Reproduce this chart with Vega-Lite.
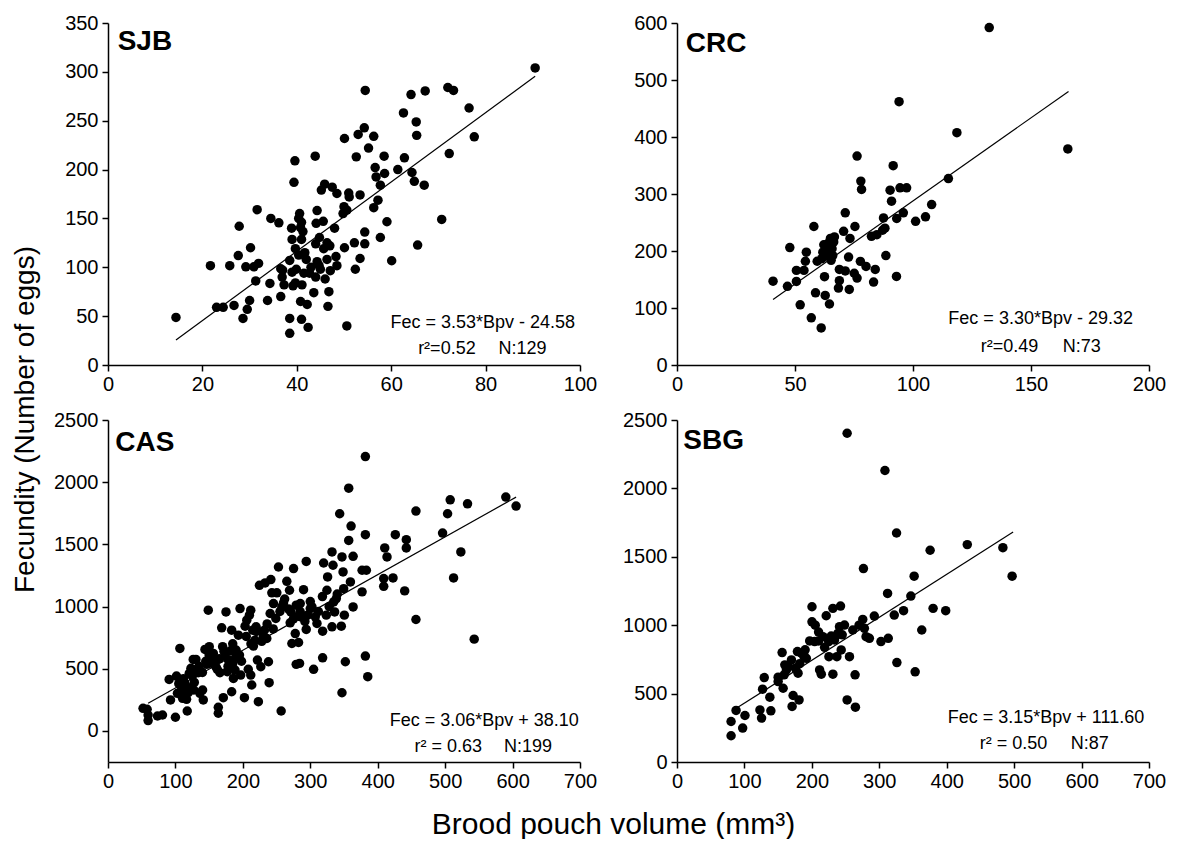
{
  "$schema": "https://vega.github.io/schema/vega-lite/v6.json",
  "padding": {"left": 11, "top": 13, "right": 5, "bottom": 0},
  "columns": 2,
  "spacing": {"row": 55, "column": 97},
  "bounds": "flush",
  "config": {
    "font": "Liberation Sans",
    "view": {"stroke": null},
    "axis": {"domainColor": "black", "domainWidth": 1.5, "tickColor": "black", "tickWidth": 1.5, "tickSize": 6, "labelFont": "Liberation Sans", "labelFontSize": 20, "labelColor": "black", "grid": false, "labelFlush": false, "labelBound": false, "labelOverlap": false, "titleFont": "Liberation Sans", "titleFontSize": 28, "titleFontWeight": "normal", "titleColor": "black", "labelPadding": 3, "format": "d"}
  },
  "datasets": {
    "sjb": [{"x":14.4,"y":48.7},{"x":23.0,"y":59},{"x":24.4,"y":59},{"x":21.7,"y":101.6},{"x":25.8,"y":101.6},{"x":26.7,"y":61},{"x":27.6,"y":112},{"x":27.8,"y":142},{"x":28.6,"y":47.7},{"x":29.5,"y":57},{"x":29.2,"y":100.5},{"x":30.2,"y":120},{"x":30.0,"y":66},{"x":30.9,"y":100.5},{"x":31.9,"y":104},{"x":31.3,"y":86},{"x":31.6,"y":159},{"x":33.8,"y":66},{"x":34.3,"y":83.5},{"x":34.5,"y":150},{"x":36.2,"y":145.5},{"x":36.6,"y":70},{"x":36.6,"y":98.5},{"x":36.9,"y":90},{"x":37.3,"y":82},{"x":38.5,"y":107},{"x":38.5,"y":47.7},{"x":38.5,"y":32.4},{"x":38.9,"y":140},{"x":39.0,"y":128.5},{"x":39.2,"y":81},{"x":39.7,"y":119},{"x":39.6,"y":209},{"x":39.4,"y":187},{"x":39.9,"y":98},{"x":39.7,"y":84},{"x":40.4,"y":112.5},{"x":40.4,"y":150},{"x":40.6,"y":155},{"x":40.8,"y":140.5},{"x":41.0,"y":128.5},{"x":40.8,"y":65},{"x":41.0,"y":46.7},{"x":41.1,"y":82},{"x":41.5,"y":94},{"x":41.3,"y":136.5},{"x":41.7,"y":115},{"x":42.2,"y":62},{"x":42.4,"y":38.5},{"x":42.7,"y":94},{"x":43.6,"y":74},{"x":43.9,"y":213.7},{"x":44.1,"y":145},{"x":44.3,"y":158},{"x":44.3,"y":105.7},{"x":44.7,"y":102},{"x":44.8,"y":130.5},{"x":45.0,"y":98},{"x":45.2,"y":179},{"x":45.6,"y":147},{"x":45.9,"y":185},{"x":45.7,"y":119},{"x":46.4,"y":125},{"x":46.4,"y":108},{"x":46.8,"y":75},{"x":46.6,"y":60},{"x":47.1,"y":96.5},{"x":47.5,"y":182},{"x":48.3,"y":111},{"x":48.5,"y":175.5},{"x":48.5,"y":101.6},{"x":49.8,"y":155},{"x":50.1,"y":120},{"x":50.1,"y":231.8},{"x":50.6,"y":40},{"x":50.6,"y":158.5},{"x":51.0,"y":176},{"x":51.1,"y":172},{"x":52.2,"y":125},{"x":52.4,"y":98},{"x":52.6,"y":213},{"x":53.0,"y":236},{"x":53.4,"y":174},{"x":53.4,"y":109},{"x":54.3,"y":242.7},{"x":54.5,"y":281},{"x":54.4,"y":136},{"x":54.4,"y":124},{"x":55.2,"y":222},{"x":56.3,"y":234},{"x":56.3,"y":161},{"x":56.6,"y":202},{"x":56.8,"y":192.5},{"x":57.2,"y":168.7},{"x":57.7,"y":184},{"x":57.7,"y":130.5},{"x":58.5,"y":213.7},{"x":58.6,"y":196},{"x":59.1,"y":146.6},{"x":60.1,"y":106.7},{"x":61.4,"y":200},{"x":90.5,"y":304},{"x":76.5,"y":263},{"x":77.6,"y":233.5},{"x":72.3,"y":216.4},{"x":72.0,"y":284},{"x":73.2,"y":281},{"x":67.2,"y":280.5},{"x":64.2,"y":276.8},{"x":62.6,"y":258},{"x":65.3,"y":248.8},{"x":65.4,"y":235},{"x":62.8,"y":212},{"x":64.4,"y":197},{"x":64.9,"y":188},{"x":67.0,"y":184},{"x":70.7,"y":149},{"x":65.6,"y":122.7},{"x":42,"y":108},{"x":43,"y":100},{"x":44,"y":90},{"x":46,"y":88},{"x":39,"y":95},{"x":41,"y":146},{"x":47,"y":122},{"x":37,"y":97},{"x":48,"y":140},{"x":50,"y":162},{"x":44,"y":124}],
    "crc": [{"x":40.7,"y":147},{"x":46.8,"y":138},{"x":47.8,"y":206},{"x":50.6,"y":146.6},{"x":50.6,"y":166},{"x":52.2,"y":105.6},{"x":53.8,"y":166},{"x":54.4,"y":182},{"x":54.8,"y":198},{"x":56.9,"y":82.7},{"x":58.0,"y":243},{"x":58.7,"y":126.7},{"x":59.4,"y":182},{"x":61.1,"y":65},{"x":61.4,"y":186.5},{"x":61.8,"y":198},{"x":62.2,"y":211},{"x":62.5,"y":155},{"x":62.8,"y":122},{"x":63.2,"y":201},{"x":63.6,"y":192},{"x":63.9,"y":213},{"x":64.6,"y":107},{"x":65.0,"y":222},{"x":65.3,"y":183.6},{"x":65.7,"y":204},{"x":66.4,"y":216},{"x":66.7,"y":224.6},{"x":66.0,"y":192},{"x":68.4,"y":135},{"x":68.8,"y":148},{"x":68.8,"y":167.7},{"x":70.6,"y":234.6},{"x":71.3,"y":267},{"x":71.3,"y":165},{"x":72.7,"y":189.4},{"x":73.0,"y":132.5},{"x":73.3,"y":222},{"x":75.4,"y":243},{"x":75.1,"y":161},{"x":76.3,"y":152.5},{"x":76.3,"y":366.6},{"x":77.7,"y":181.8},{"x":77.9,"y":322.6},{"x":78.2,"y":308},{"x":80.1,"y":173},{"x":82.4,"y":225.8},{"x":83.3,"y":145.5},{"x":84.0,"y":167.7},{"x":84.7,"y":228.7},{"x":87.1,"y":236.4},{"x":87.5,"y":258},{"x":88.1,"y":240},{"x":88.5,"y":192},{"x":90.3,"y":306.7},{"x":90.9,"y":287.4},{"x":91.6,"y":349.6},{"x":93.0,"y":155.4},{"x":93.1,"y":257},{"x":94.1,"y":462},{"x":94.5,"y":310.8},{"x":95.9,"y":267},{"x":97.3,"y":310.8},{"x":101.1,"y":252},{"x":105.3,"y":260},{"x":107.9,"y":281.5},{"x":132.3,"y":592},{"x":118.6,"y":407.6},{"x":165.6,"y":379},{"x":115.0,"y":327},{"x":63,"y":205},{"x":64,"y":196},{"x":62,"y":190}],
    "cas": [{"x":52,"y":182},{"x":59.5,"y":128},{"x":58,"y":174},{"x":59.5,"y":83},{"x":73.4,"y":120},{"x":80.8,"y":128},{"x":100,"y":110},{"x":90.7,"y":414},{"x":92.7,"y":249},{"x":101.6,"y":441},{"x":103,"y":302},{"x":106.6,"y":663},{"x":109,"y":329},{"x":110.6,"y":262},{"x":114,"y":382},{"x":117.5,"y":160},{"x":116.5,"y":254},{"x":119,"y":307},{"x":120.5,"y":463},{"x":123,"y":503},{"x":126.4,"y":575},{"x":127.4,"y":329},{"x":131.4,"y":495},{"x":130.4,"y":575},{"x":133.9,"y":468},{"x":136.3,"y":302},{"x":140.3,"y":329},{"x":141.3,"y":249},{"x":143.8,"y":655},{"x":146.3,"y":535},{"x":148.7,"y":971},{"x":150.2,"y":677},{"x":153.7,"y":583},{"x":156.2,"y":623},{"x":160.1,"y":516},{"x":162,"y":495},{"x":163.6,"y":142},{"x":163.6,"y":190},{"x":166,"y":468},{"x":168.6,"y":829},{"x":170,"y":677},{"x":171,"y":267},{"x":173.5,"y":602},{"x":175,"y":957},{"x":176.9,"y":476},{"x":178.5,"y":570},{"x":181,"y":642},{"x":183.4,"y":315},{"x":183.4,"y":810},{"x":185,"y":543},{"x":186,"y":422},{"x":188.4,"y":489},{"x":190,"y":596},{"x":193.4,"y":770},{"x":195.8,"y":984},{"x":195,"y":610},{"x":196.8,"y":449},{"x":202.3,"y":267},{"x":203.3,"y":842},{"x":205.8,"y":890},{"x":208,"y":495},{"x":209.7,"y":931},{"x":211.7,"y":971},{"x":211.7,"y":449},{"x":213.2,"y":369},{"x":214.7,"y":810},{"x":215.7,"y":682},{"x":218,"y":730},{"x":219.6,"y":837},{"x":221.6,"y":570},{"x":223,"y":235},{"x":224.6,"y":1171},{"x":226.6,"y":516},{"x":229,"y":797},{"x":230.5,"y":757},{"x":232,"y":810},{"x":233,"y":1190},{"x":235.5,"y":743},{"x":238,"y":556},{"x":239,"y":388},{"x":240.5,"y":944},{"x":241.5,"y":1217},{"x":243,"y":1110},{"x":245.4,"y":1024},{"x":248.9,"y":904},{"x":250.4,"y":1110},{"x":252.8,"y":1318},{"x":256.8,"y":160},{"x":257.8,"y":997},{"x":260.3,"y":1029},{"x":265.2,"y":1203},{"x":269.2,"y":1131},{"x":270.2,"y":869},{"x":271.2,"y":957},{"x":272.7,"y":703},{"x":275.2,"y":1305},{"x":276.2,"y":917},{"x":277.7,"y":783},{"x":279.1,"y":535},{"x":279.1,"y":1011},{"x":282.6,"y":711},{"x":284.1,"y":543},{"x":285.1,"y":1024},{"x":286.1,"y":917},{"x":290,"y":1136},{"x":294,"y":1363},{"x":294,"y":816},{"x":296,"y":931},{"x":300,"y":984},{"x":302.5,"y":997},{"x":304.9,"y":495},{"x":307.4,"y":917},{"x":309.9,"y":864},{"x":318.3,"y":802},{"x":318.3,"y":588},{"x":319.8,"y":1350},{"x":323.7,"y":931},{"x":324.7,"y":1131},{"x":325.7,"y":1238},{"x":332.2,"y":837},{"x":332.2,"y":1439},{"x":333.7,"y":1332},{"x":334.7,"y":1037},{"x":336.1,"y":957},{"x":338.6,"y":1064},{"x":343.6,"y":1746},{"x":346,"y":842},{"x":347,"y":1399},{"x":347,"y":307},{"x":348.6,"y":1278},{"x":349.5,"y":1144},{"x":350.5,"y":931},{"x":352,"y":556},{"x":381.7,"y":2206},{"x":357,"y":1952},{"x":360.5,"y":1647},{"x":357,"y":1532},{"x":363.5,"y":1404},{"x":381.7,"y":1578},{"x":359.5,"y":1198},{"x":376.8,"y":1292},{"x":383.2,"y":1292},{"x":376.8,"y":1118},{"x":363.5,"y":997},{"x":381.7,"y":602},{"x":385.2,"y":436},{"x":410.4,"y":1471},{"x":413.8,"y":1399},{"x":408.9,"y":1225},{"x":408.9,"y":1163},{"x":422.7,"y":1230},{"x":426.1,"y":1578},{"x":442.4,"y":1538},{"x":442.4,"y":1471},{"x":440,"y":1126},{"x":456.7,"y":1768},{"x":456.7,"y":896},{"x":496.2,"y":1591},{"x":503.6,"y":1746},{"x":507.5,"y":1858},{"x":512.5,"y":1230},{"x":523.3,"y":1439},{"x":533.2,"y":1826},{"x":543.1,"y":738},{"x":590,"y":1880},{"x":605.2,"y":1808},{"x":105,"y":380},{"x":112,"y":420},{"x":118,"y":350},{"x":125,"y":440},{"x":128,"y":390},{"x":135,"y":520},{"x":140,"y":470},{"x":145,"y":560},{"x":150,"y":610},{"x":155,"y":540},{"x":165,"y":580},{"x":172,"y":640},{"x":178,"y":520},{"x":185,"y":700},{"x":190,"y":650},{"x":198,"y":560},{"x":205,"y":760},{"x":212,"y":700},{"x":220,"y":800},{"x":228,"y":720},{"x":236,"y":860},{"x":245,"y":820},{"x":255,"y":960},{"x":262,"y":1060},{"x":268,"y":980},{"x":275,"y":900},{"x":285,"y":960},{"x":292,"y":880},{"x":300,"y":1040},{"x":312,"y":960},{"x":318,"y":1080},{"x":328,"y":1000},{"x":340,"y":1100}],
    "sbg": [{"x":80.2,"y":192},{"x":80.2,"y":296},{"x":87.6,"y":377},{"x":97.4,"y":248},{"x":100.8,"y":340},{"x":123,"y":381},{"x":125.4,"y":321},{"x":126.9,"y":532},{"x":129.4,"y":617},{"x":137.7,"y":474},{"x":139.2,"y":374},{"x":150,"y":588},{"x":155.9,"y":800},{"x":157.4,"y":539},{"x":158.9,"y":637},{"x":159.9,"y":710},{"x":162.3,"y":673},{"x":169.7,"y":746},{"x":170.7,"y":406},{"x":172.2,"y":486},{"x":175.6,"y":685},{"x":178.6,"y":807},{"x":179.5,"y":649},{"x":181,"y":454},{"x":182,"y":719},{"x":184.5,"y":795},{"x":188.4,"y":770},{"x":191.8,"y":758},{"x":196.8,"y":885},{"x":200.2,"y":1135},{"x":200.2,"y":1025},{"x":204.1,"y":880},{"x":210,"y":885},{"x":211.5,"y":673},{"x":214,"y":642},{"x":216.4,"y":916},{"x":218.9,"y":838},{"x":221.3,"y":1069},{"x":225.3,"y":770},{"x":228.7,"y":921},{"x":231.2,"y":1123},{"x":231.2,"y":642},{"x":233.6,"y":892},{"x":237.1,"y":770},{"x":238.6,"y":940},{"x":241,"y":989},{"x":242.5,"y":1140},{"x":243.5,"y":819},{"x":248.4,"y":1001},{"x":252.3,"y":2403},{"x":252.3,"y":454},{"x":255.8,"y":770},{"x":260.7,"y":965},{"x":264.1,"y":637},{"x":264.6,"y":401},{"x":275.5,"y":1042},{"x":276.5,"y":1414},{"x":277.9,"y":977},{"x":280.4,"y":916},{"x":285.3,"y":904},{"x":292.6,"y":1067},{"x":302.5,"y":880},{"x":308.4,"y":2131},{"x":312.3,"y":1232},{"x":313.3,"y":904},{"x":322.2,"y":1074},{"x":326.1,"y":727},{"x":325.6,"y":1674},{"x":336,"y":1106},{"x":351.7,"y":1358},{"x":346.8,"y":1213},{"x":353.2,"y":659},{"x":363,"y":965},{"x":379.8,"y":1123},{"x":375.4,"y":1548},{"x":398.5,"y":1106},{"x":430.5,"y":1589},{"x":483.3,"y":1567},{"x":497,"y":1358},{"x":150,"y":620},{"x":165,"y":700},{"x":190,"y":820},{"x":210,"y":950},{"x":225,"y":880},{"x":245,"y":930},{"x":270,"y":1000},{"x":205,"y":1000}],
    "fits": [{"panel":"SJB","x":14.4,"y":25.6},{"panel":"SJB","x":90.5,"y":295.5},{"panel":"CRC","x":40.7,"y":115},{"panel":"CRC","x":165.9,"y":480},{"panel":"CAS","x":59.5,"y":222},{"panel":"CAS","x":605.2,"y":1880},{"panel":"SBG","x":88.5,"y":394},{"panel":"SBG","x":498.5,"y":1682}],
    "notes": [{"panel":"SJB","x":79.4,"y":37.5,"text":"Fec = 3.53*Bpv - 24.58"},{"panel":"SJB","x":71.8,"y":11.2,"text":"r²=0.52"},{"panel":"SJB","x":87.8,"y":11.2,"text":"N:129"},{"panel":"CRC","x":154.1,"y":71.6,"text":"Fec = 3.30*Bpv - 29.32"},{"panel":"CRC","x":140.9,"y":22.9,"text":"r²=0.49"},{"panel":"CRC","x":171.5,"y":22.9,"text":"N:73"},{"panel":"CAS","x":558,"y":40,"text":"Fec = 3.06*Bpv + 38.10"},{"panel":"CAS","x":504.7,"y":-166,"text":"r² = 0.63"},{"panel":"CAS","x":622.9,"y":-166,"text":"N:199"},{"panel":"SBG","x":547.2,"y":284,"text":"Fec = 3.15*Bpv + 111.60"},{"panel":"SBG","x":499,"y":94.7,"text":"r² = 0.50"},{"panel":"SBG","x":612.3,"y":94.7,"text":"N:87"}],
    "labels": [{"panel":"SJB","x":2.05,"y":322,"text":"SJB"},{"panel":"CRC","x":3.7,"y":549.5,"text":"CRC"},{"panel":"CAS","x":10.8,"y":2253,"text":"CAS"},{"panel":"SBG","x":9.3,"y":2289,"text":"SBG"}]
  },
  "concat": [
    {
      "width": 472, "height": 342,
      "layer": [
        {"data": {"name": "sjb"}, "mark": {"type": "circle", "size": 90, "opacity": 1, "color": "black"},
         "encoding": {
           "x": {"field": "x", "type": "quantitative", "scale": {"domain": [0, 100], "nice": false, "zero": false}, "axis": {"title": null, "values": [0, 20, 40, 60, 80, 100]}},
           "y": {"field": "y", "type": "quantitative", "scale": {"domain": [0, 350], "nice": false, "zero": false}, "axis": {"title": "Fecundity (Number of eggs)", "values": [0, 25, 50, 75, 100, 125, 150, 175, 200, 225, 250, 275, 300, 325, 350], "labelExpr": "datum.value % 50 === 0 ? datum.label : ''", "tickSize": {"condition": {"test": "datum.value % 50 === 0", "value": 6}, "value": 3}, "labelPadding": 4, "titleX": -75, "titleY": 396, "titleBaseline": "alphabetic", "titleAngle": 270, "titleAlign": "center"}}
         }},
        {"data": {"name": "fits"}, "transform": [{"filter": "datum.panel === 'SJB'"}], "mark": {"type": "line", "color": "black", "strokeWidth": 1.2},
         "encoding": {"x": {"field": "x", "type": "quantitative"}, "y": {"field": "y", "type": "quantitative"}}},
        {"data": {"name": "notes"}, "transform": [{"filter": "datum.panel === 'SJB'"}], "mark": {"type": "text", "fontSize": 18, "align": "center", "baseline": "alphabetic", "color": "black"},
         "encoding": {"x": {"field": "x", "type": "quantitative"}, "y": {"field": "y", "type": "quantitative"}, "text": {"field": "text"}}},
        {"data": {"name": "labels"}, "transform": [{"filter": "datum.panel === 'SJB'"}], "mark": {"type": "text", "fontSize": 28, "fontWeight": "bold", "align": "left", "baseline": "alphabetic", "color": "black"},
         "encoding": {"x": {"field": "x", "type": "quantitative"}, "y": {"field": "y", "type": "quantitative"}, "text": {"field": "text"}}}
      ]
    },
    {
      "width": 472, "height": 342,
      "layer": [
        {"data": {"name": "crc"}, "mark": {"type": "circle", "size": 90, "opacity": 1, "color": "black"},
         "encoding": {
           "x": {"field": "x", "type": "quantitative", "scale": {"domain": [0, 200], "nice": false, "zero": false}, "axis": {"title": null, "values": [0, 50, 100, 150, 200]}},
           "y": {"field": "y", "type": "quantitative", "scale": {"domain": [0, 600], "nice": false, "zero": false}, "axis": {"title": null, "values": [0, 50, 100, 150, 200, 250, 300, 350, 400, 450, 500, 550, 600], "labelExpr": "datum.value % 100 === 0 ? datum.label : ''", "tickSize": {"condition": {"test": "datum.value % 100 === 0", "value": 6}, "value": 3}, "labelPadding": 4}}
         }},
        {"data": {"name": "fits"}, "transform": [{"filter": "datum.panel === 'CRC'"}], "mark": {"type": "line", "color": "black", "strokeWidth": 1.2},
         "encoding": {"x": {"field": "x", "type": "quantitative"}, "y": {"field": "y", "type": "quantitative"}}},
        {"data": {"name": "notes"}, "transform": [{"filter": "datum.panel === 'CRC'"}], "mark": {"type": "text", "fontSize": 18, "align": "center", "baseline": "alphabetic", "color": "black"},
         "encoding": {"x": {"field": "x", "type": "quantitative"}, "y": {"field": "y", "type": "quantitative"}, "text": {"field": "text"}}},
        {"data": {"name": "labels"}, "transform": [{"filter": "datum.panel === 'CRC'"}], "mark": {"type": "text", "fontSize": 28, "fontWeight": "bold", "align": "left", "baseline": "alphabetic", "color": "black"},
         "encoding": {"x": {"field": "x", "type": "quantitative"}, "y": {"field": "y", "type": "quantitative"}, "text": {"field": "text"}}}
      ]
    },
    {
      "width": 472, "height": 342,
      "layer": [
        {"data": {"name": "cas"}, "mark": {"type": "circle", "size": 90, "opacity": 1, "color": "black"},
         "encoding": {
           "x": {"field": "x", "type": "quantitative", "scale": {"domain": [0, 700], "nice": false, "zero": false}, "axis": {"title": "Brood pouch volume (mm³)", "values": [0, 100, 200, 300, 400, 500, 600, 700], "titleX": 505, "titleY": 71, "titleBaseline": "alphabetic", "titleAlign": "center", "titleFontSize": 30}},
           "y": {"field": "y", "type": "quantitative", "scale": {"domain": [-250, 2500], "nice": false, "zero": false}, "axis": {"title": null, "values": [0, 250, 500, 750, 1000, 1250, 1500, 1750, 2000, 2250, 2500], "labelExpr": "datum.value % 500 === 0 ? datum.label : ''", "tickSize": {"condition": {"test": "datum.value % 500 === 0", "value": 6}, "value": 3}, "labelPadding": 4}}
         }},
        {"data": {"name": "fits"}, "transform": [{"filter": "datum.panel === 'CAS'"}], "mark": {"type": "line", "color": "black", "strokeWidth": 1.2},
         "encoding": {"x": {"field": "x", "type": "quantitative"}, "y": {"field": "y", "type": "quantitative"}}},
        {"data": {"name": "notes"}, "transform": [{"filter": "datum.panel === 'CAS'"}], "mark": {"type": "text", "fontSize": 18, "align": "center", "baseline": "alphabetic", "color": "black"},
         "encoding": {"x": {"field": "x", "type": "quantitative"}, "y": {"field": "y", "type": "quantitative"}, "text": {"field": "text"}}},
        {"data": {"name": "labels"}, "transform": [{"filter": "datum.panel === 'CAS'"}], "mark": {"type": "text", "fontSize": 28, "fontWeight": "bold", "align": "left", "baseline": "alphabetic", "color": "black"},
         "encoding": {"x": {"field": "x", "type": "quantitative"}, "y": {"field": "y", "type": "quantitative"}, "text": {"field": "text"}}}
      ]
    },
    {
      "width": 472, "height": 342,
      "layer": [
        {"data": {"name": "sbg"}, "mark": {"type": "circle", "size": 90, "opacity": 1, "color": "black"},
         "encoding": {
           "x": {"field": "x", "type": "quantitative", "scale": {"domain": [0, 700], "nice": false, "zero": false}, "axis": {"title": null, "values": [0, 100, 200, 300, 400, 500, 600, 700]}},
           "y": {"field": "y", "type": "quantitative", "scale": {"domain": [0, 2500], "nice": false, "zero": false}, "axis": {"title": null, "values": [0, 250, 500, 750, 1000, 1250, 1500, 1750, 2000, 2250, 2500], "labelExpr": "datum.value % 500 === 0 ? datum.label : ''", "tickSize": {"condition": {"test": "datum.value % 500 === 0", "value": 6}, "value": 3}, "labelPadding": 4}}
         }},
        {"data": {"name": "fits"}, "transform": [{"filter": "datum.panel === 'SBG'"}], "mark": {"type": "line", "color": "black", "strokeWidth": 1.2},
         "encoding": {"x": {"field": "x", "type": "quantitative"}, "y": {"field": "y", "type": "quantitative"}}},
        {"data": {"name": "notes"}, "transform": [{"filter": "datum.panel === 'SBG'"}], "mark": {"type": "text", "fontSize": 18, "align": "center", "baseline": "alphabetic", "color": "black"},
         "encoding": {"x": {"field": "x", "type": "quantitative"}, "y": {"field": "y", "type": "quantitative"}, "text": {"field": "text"}}},
        {"data": {"name": "labels"}, "transform": [{"filter": "datum.panel === 'SBG'"}], "mark": {"type": "text", "fontSize": 28, "fontWeight": "bold", "align": "left", "baseline": "alphabetic", "color": "black"},
         "encoding": {"x": {"field": "x", "type": "quantitative"}, "y": {"field": "y", "type": "quantitative"}, "text": {"field": "text"}}}
      ]
    }
  ]
}
